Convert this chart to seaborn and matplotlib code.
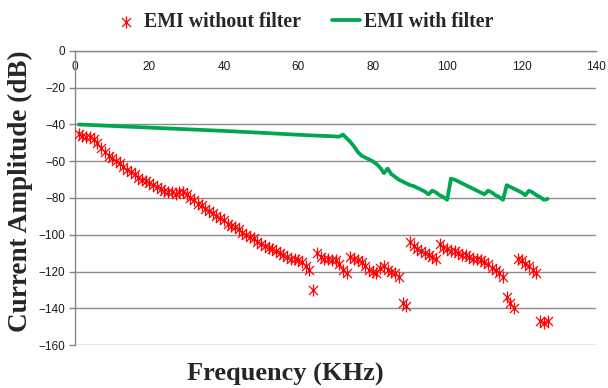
import numpy as np
import pandas as pd
import matplotlib
matplotlib.use("Agg")
import matplotlib.pyplot as plt
from matplotlib.path import Path
import seaborn as sns

# EMI without filter (one sample per kHz)
freq_nofilter = np.arange(1, 128)
amp_nofilter = [
    -45, -46, -47, -47, -48, -50, -53, -55, -57, -58,
    -60, -61, -63, -65, -66, -67, -69, -70, -71, -72,
    -73, -74, -75, -76, -77, -77, -78, -77, -77, -78,
    -80, -81, -83, -84, -86, -87, -88, -90, -91, -92,
    -94, -95, -96, -97, -99, -100, -101, -102, -104, -105,
    -106, -107, -108, -109, -110, -111, -112, -113, -113, -114,
    -115, -117, -119, -130, -110, -112, -113, -113, -114, -114,
    -116, -119, -121, -112, -113, -114, -115, -117, -119, -120,
    -121, -118, -117, -119, -120, -121, -123, -137, -139, -104,
    -106, -108, -109, -110, -111, -112, -113, -105, -107, -108,
    -109, -109, -110, -111, -111, -112, -113, -113, -114, -115,
    -116, -118, -119, -121, -123, -134, -137, -140, -113, -114,
    -116, -117, -119, -121, -147, -148, -147,
]

# EMI with filter
freq_filter = [1, 10, 20, 30, 40, 50, 60, 71, 72, 73, 74, 75, 76, 77, 78, 79, 80,
               81, 82, 83, 84, 85, 86, 87, 88, 89, 90, 91, 92, 93, 94, 95, 96, 97,
               98, 99, 100, 101, 102, 103, 104, 105, 106, 107, 108, 109, 110, 111,
               112, 113, 114, 115, 116, 117, 118, 119, 120, 121, 122, 123, 124, 125,
               126, 127]
amp_filter = [-40, -40.8, -41.7, -42.6, -43.5, -44.5, -45.6, -46.6, -45.5, -47.5,
              -49.5, -52, -55, -57, -58, -59, -60, -61.5, -63.5, -66.5, -64, -67,
              -68.5, -70, -71, -72, -73, -73.5, -74.5, -75.5, -76.5, -78, -76, -77,
              -78.5, -79.5, -81, -69.5, -70, -71, -72, -73, -74, -75, -76, -77, -78,
              -76, -77, -78.5, -79.5, -81, -73, -74, -75, -76, -77, -78.5, -76, -77,
              -78.5, -79.5, -81, -80.5]

x_ticks = [0, 20, 40, 60, 80, 100, 120, 140]
y_ticks = [0, -20, -40, -60, -80, -100, -120, -140, -160]

df_no = pd.DataFrame({"Frequency": freq_nofilter, "Amplitude": amp_nofilter})
df_f = pd.DataFrame({"Frequency": freq_filter, "Amplitude": amp_filter})

sns.set_style("white")
plt.rcParams["font.family"] = ["Liberation Sans", "DejaVu Sans"]

# Excel style star: vertical bar plus an X
star = Path([(0, -1), (0, 1), (-0.75, -0.75), (0.75, 0.75), (-0.75, 0.75), (0.75, -0.75)],
            [Path.MOVETO, Path.LINETO, Path.MOVETO, Path.LINETO, Path.MOVETO, Path.LINETO])

fig = plt.figure(figsize=(6.08, 3.88), dpi=100)
ax = fig.add_axes([0.1234, 0.1108, 0.8569, 0.7578])

sns.lineplot(data=df_f, x="Frequency", y="Amplitude", ax=ax, color="#00A650",
             linewidth=2.7, label="EMI with filter", zorder=3)
sns.scatterplot(data=df_no, x="Frequency", y="Amplitude", ax=ax, marker=star,
                s=75, color="#FF0000", edgecolor="#FF0000", linewidth=0.9,
                label="EMI without filter", zorder=4)

ax.set_xlim(0, 140)
ax.set_ylim(-160, 0)
ax.set_xticks(x_ticks)
ax.set_yticks(y_ticks)

for s in ["top", "right"]:
    ax.spines[s].set_visible(False)
ax.spines["bottom"].set_position(("data", 0))
for s in ["bottom", "left"]:
    ax.spines[s].set_color("#868686")
    ax.spines[s].set_linewidth(1)

ax.yaxis.grid(True, color="#8c8c8c", linewidth=1)
ax.set_axisbelow(True)

ax.tick_params(axis="x", direction="in", length=4, width=1, color="#868686",
               pad=7, labelsize=8.5, labelcolor="#1a1a1a")
ax.tick_params(axis="y", direction="out", length=4, width=1, color="#868686",
               pad=3, labelsize=8.5, labelcolor="#1a1a1a", left=True)

ax.set_xlabel("Frequency (KHz)", family="Liberation Serif", fontweight="bold",
              fontsize=19)
ax.set_ylabel("Current Amplitude (dB)", family="Liberation Serif",
              fontweight="bold", fontsize=19.5)
ax.xaxis.set_label_coords(0.403, -0.06)
ax.yaxis.set_label_coords(-0.08, 0.524)

handles, labels = ax.get_legend_handles_labels()
ax.get_legend().remove()
order = [labels.index("EMI without filter"), labels.index("EMI with filter")]
fig.legend([handles[i] for i in order], [labels[i] for i in order],
           loc="center", bbox_to_anchor=(0.498, 0.943), ncol=2, frameon=False,
           prop={"family": "Liberation Serif", "weight": "bold", "size": 14.3},
           handlelength=1.4, handletextpad=0.2, columnspacing=1.6)

fig.savefig("out.png", dpi=100)
